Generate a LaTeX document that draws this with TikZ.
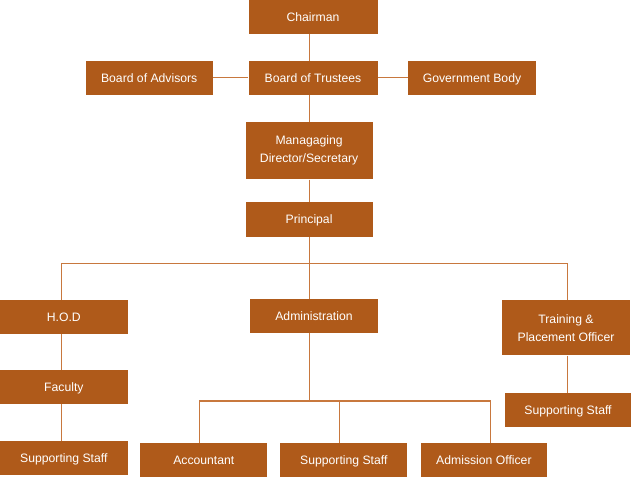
\documentclass[tikz,border=0pt]{standalone}
\usepackage{fontspec}
\setmainfont{Liberation Sans}
\definecolor{boxfill}{RGB}{175,90,26}
\definecolor{linec}{RGB}{200,120,62}
\begin{document}
\begin{tikzpicture}[x=1pt,y=-1pt,
  box/.style={fill=boxfill,draw=none,inner sep=0pt,text=white,align=center,
    font=\fontsize{12.2}{18}\selectfont},
  box1/.style={box,text height=8.6pt,text depth=0pt},
  conn/.style={draw=linec,line width=1.2pt}]
\useasboundingbox (0,0) rectangle (632,477);
% boxes
\node[box1,minimum width=129,minimum height=33.5] (chair) at (313,16.75) {Chairman};
\node[box1,minimum width=127,minimum height=33.5] (boa) at (149.2,77.75) {Board of Advisors};
\node[box1,minimum width=129,minimum height=33.5] (bot) at (313,77.75) {Board of Trustees};
\node[box1,minimum width=127.4,minimum height=33.5] (gov) at (472,77.75) {Government Body};
\node[box,minimum width=127.2,minimum height=57.6] (md) at (309.1,150.5) {Managaging\\Director/Secretary};
\node[box1,minimum width=127.2,minimum height=34.7] (prin) at (309.1,219.35) {Principal};
\node[box1,minimum width=127.7,minimum height=33.7] (hod) at (63.85,316.85) {H.O.D};
\node[box1,minimum width=127.4,minimum height=33.7] (admin) at (314,315.85) {Administration};
\node[box,minimum width=127.4,minimum height=55.3] (train) at (566,327.65) {Training \&\\Placement Officer};
\node[box1,minimum width=127.7,minimum height=34] (fac) at (63.85,387) {Faculty};
\node[box1,minimum width=127.7,minimum height=34] (ssl) at (63.85,458) {Supporting Staff};
\node[box1,minimum width=127,minimum height=34] (acc) at (203.8,460) {Accountant};
\node[box1,minimum width=127,minimum height=34] (ssm) at (343.8,460) {Supporting Staff};
\node[box1,minimum width=126.8,minimum height=34] (adm) at (483.9,460) {Admission Officer};
\node[box1,minimum width=126.6,minimum height=33.4] (ssr) at (568,410) {Supporting Staff};
% guide coordinates
\coordinate (tx) at (309.5,0);
\coordinate (hx) at (61.5,0);
\coordinate (trx) at (567.5,0);
\coordinate (bus) at (0,263.5);
\coordinate (ax) at (309.7,0);
\coordinate (abus) at (0,401);
\coordinate (accx) at (199.7,0);
\coordinate (ssmx) at (339.7,0);
\coordinate (admx) at (490.7,0);
\coordinate (ssrx) at (567.7,0);
% connectors
\draw[conn] (chair.south -| tx) -- (bot.north -| tx);
\draw[conn] (boa.east) -- (bot.west);
\draw[conn] (bot.east) -- (gov.west);
\draw[conn] (bot.south -| tx) -- (md.north -| tx);
\draw[conn] (md.south -| tx) -- (prin.north -| tx);
\draw[conn] (prin.south -| tx) -- (admin.north -| tx);
\draw[conn] (hod.north -| hx) -- (bus -| hx) -- (bus -| trx) -- (train.north -| trx);
\draw[conn] (hod.south -| hx) -- (fac.north -| hx);
\draw[conn] (fac.south -| hx) -- (ssl.north -| hx);
\draw[conn] (train.south -| ssrx) -- (ssr.north -| ssrx);
\draw[conn] (admin.south -| ax) -- (abus -| ax);
\draw[conn] (acc.north -| accx) -- (abus -| accx) -- (abus -| admx) -- (adm.north -| admx);
\draw[conn] (abus -| ssmx) -- (ssm.north -| ssmx);
\end{tikzpicture}
\end{document}
